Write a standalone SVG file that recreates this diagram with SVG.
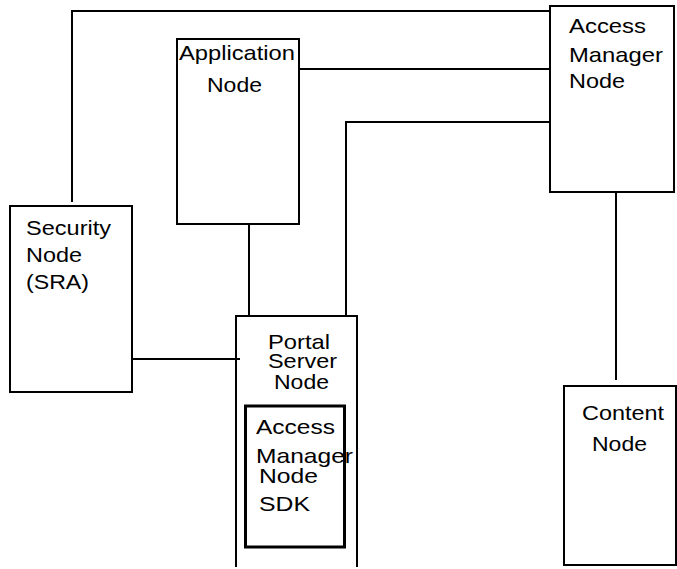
<svg xmlns="http://www.w3.org/2000/svg" width="677" height="569" viewBox="0 0 677 569">
<style>
.box{fill:#fff;stroke:#000;stroke-width:2}
.open{fill:none;stroke:#000;stroke-width:2}
.inner{fill:none;stroke:#000;stroke-width:3}
.ln{fill:none;stroke:#000;stroke-width:2}
text{font-family:"Liberation Sans",Arial,sans-serif;font-size:21px;fill:#000}
</style>
<rect width="677" height="569" fill="#fff"/>
<g id="connectors">
<polyline class="ln" points="72,202 72,11 550,11"/>
<line class="ln" x1="299" y1="69" x2="550" y2="69"/>
<polyline class="ln" points="346,316 346,122 550,122"/>
<line class="ln" x1="249" y1="224" x2="249" y2="316"/>
<line class="ln" x1="616" y1="188" x2="616" y2="380"/>
<line class="ln" x1="132" y1="359" x2="240" y2="359"/>
</g>
<g id="application-node">
<rect class="box" x="177" y="39" width="122" height="185"/>
<text x="179" y="60" textLength="116" lengthAdjust="spacingAndGlyphs">Application</text>
<text x="207" y="92" textLength="55" lengthAdjust="spacingAndGlyphs">Node</text>
</g>
<g id="access-manager-node">
<rect class="box" x="550" y="6" width="124" height="186"/>
<text x="569" y="33" textLength="77" lengthAdjust="spacingAndGlyphs">Access</text>
<text x="569" y="62" textLength="94" lengthAdjust="spacingAndGlyphs">Manager</text>
<text x="569" y="88" textLength="56" lengthAdjust="spacingAndGlyphs">Node</text>
</g>
<g id="security-node">
<rect class="box" x="10" y="206" width="122" height="186"/>
<text x="26" y="235" textLength="85" lengthAdjust="spacingAndGlyphs">Security</text>
<text x="26" y="262" textLength="56" lengthAdjust="spacingAndGlyphs">Node</text>
<text x="26" y="289" textLength="63" lengthAdjust="spacingAndGlyphs">(SRA)</text>
</g>
<g id="portal-server-node">
<polyline class="open" points="236,567 236,316 357,316 357,567"/>
<text x="268" y="349" textLength="62" lengthAdjust="spacingAndGlyphs">Portal</text>
<text x="268" y="368" textLength="69" lengthAdjust="spacingAndGlyphs">Server</text>
<text x="274" y="389" textLength="55" lengthAdjust="spacingAndGlyphs">Node</text>
</g>
<g id="access-manager-sdk">
<rect class="inner" x="245.5" y="406" width="99" height="141"/>
<text x="256" y="434" textLength="79" lengthAdjust="spacingAndGlyphs">Access</text>
<text x="256" y="463" textLength="97" lengthAdjust="spacingAndGlyphs">Manager</text>
<text x="259" y="483" textLength="59" lengthAdjust="spacingAndGlyphs">Node</text>
<text x="259" y="511" textLength="51" lengthAdjust="spacingAndGlyphs">SDK</text>
</g>
<g id="content-node">
<rect class="box" x="564" y="386" width="112" height="179"/>
<text x="582" y="420" textLength="82" lengthAdjust="spacingAndGlyphs">Content</text>
<text x="592" y="451" textLength="55" lengthAdjust="spacingAndGlyphs">Node</text>
</g>
</svg>
